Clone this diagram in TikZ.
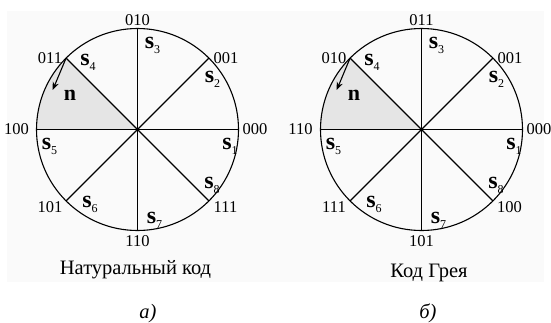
\documentclass[tikz,border=0pt]{standalone}
\usepackage{fontspec}
\setmainfont{Liberation Serif}
\usetikzlibrary{arrows.meta}
\tikzset{
  rim/.style={line width=1.1pt},
  code/.style={font=\fontsize{16.5}{17}\selectfont, inner sep=0pt},
  slab/.style={font=\fontsize{24}{24}\selectfont\bfseries, inner sep=0pt},
  nlab/.style={font=\fontsize{22}{22}\selectfont\bfseries, inner sep=0pt},
  caption/.style={font=\fontsize{20.5}{21}\selectfont, inner sep=0pt, anchor=base},
  sector/.style={fill=black!10},
  normal/.style={line width=1.1pt, -{Stealth[length=8pt,width=6.5pt]}},
  paper/.style={fill=black!2},
}
\newcommand\sv[1]{s\rlap{\smash{\raisebox{-0.22em}{\fontsize{12}{12}\selectfont\mdseries #1}}}}
% #1 prefix, #2..#9 codes at 0,45,...,315 degrees
\newcommand\codedisk[9]{%
  \coordinate (#1c) at (0,0);
  \foreach \i in {0,...,7} {\coordinate (#1p\i) at (\i*45:101);}
  \fill[sector] (#1c) -- (#1p3) arc[start angle=135,end angle=180,radius=101] -- cycle;
  \draw[rim] (#1c) circle[radius=101];
  \foreach \i in {0,...,3} {\draw[rim] (#1p\i) -- (#1c) -- (#1p\the\numexpr\i+4\relax);}
  \coordinate (#1nt) at (-84.8,39.5);
  \draw[normal] (#1p3) -- (#1nt);
  \node[nlab] (#1n) at (-67.5,34.5) {n};
  \node[slab] (#1s1) at (89.5,-14.5) {\sv{1}};
  \node[slab] (#1s2) at (72,53) {\sv{2}};
  \node[slab] (#1s3) at (12,87) {\sv{3}};
  \node[slab] (#1s4) at (-52.5,70) {\sv{4}};
  \node[slab] (#1s5) at (-91,-14.5) {\sv{5}};
  \node[slab] (#1s6) at (-50.5,-72) {\sv{6}};
  \node[slab] (#1s7) at (14,-88) {\sv{7}};
  \node[slab] (#1s8) at (71.5,-53.5) {\sv{8}};
  \node[code] (#1k0) at (117.5,0) {#2};
  \node[code] (#1k1) at (88.5,71) {#3};
  \node[code] (#1k2) at (0,109.5) {#4};
  \node[code] (#1k3) at (-87.5,71) {#5};
  \node[code] (#1k4) at (-121,0) {#6};
  \node[code] (#1k5) at (-87.5,-78) {#7};
  \node[code] (#1k6) at (0,-111.5) {#8};
  \node[code] (#1k7) at (88,-78) {#9};
}
\begin{document}
\begin{tikzpicture}[x=1pt,y=1pt]
  \useasboundingbox (0,0) rectangle (551,-322);
  \fill[paper] (7,-11) rectangle (544,-282);
  \begin{scope}[shift={(137.5,-129.5)}]
    \codedisk{L}{000}{001}{010}{011}{100}{101}{110}{111}
  \end{scope}
  \begin{scope}[shift={(421.5,-129.5)}]
    \codedisk{R}{000}{001}{011}{010}{110}{111}{101}{100}
  \end{scope}
  \node[caption] (capL) at (135.5,-274.3) {Натуральный код};
  \node[caption] (capR) at (429,-277.5) {Код Грея};
  \node[caption] (subL) at (148,-318) {\itshape а)};
  \node[caption] (subR) at (428,-318) {\itshape б)};
\end{tikzpicture}
\end{document}
